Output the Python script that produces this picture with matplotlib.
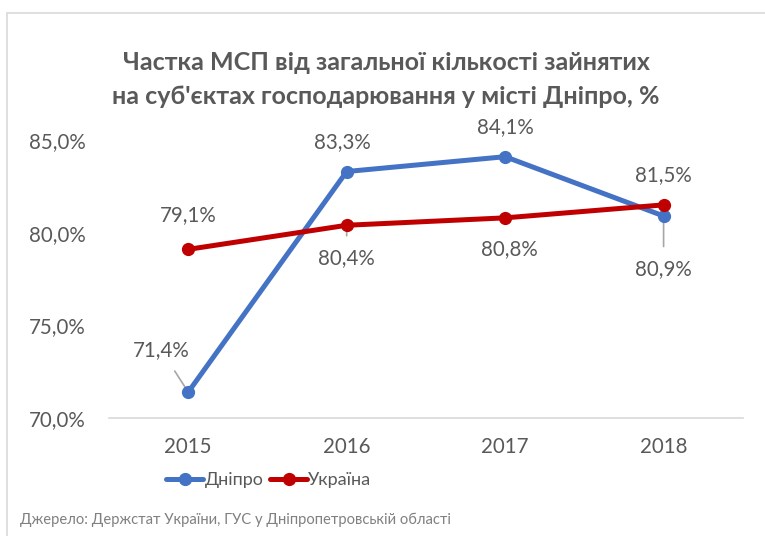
import matplotlib.pyplot as plt
import matplotlib.patches as mpatches
from matplotlib.ticker import FuncFormatter

plt.rcParams['font.family'] = ['Lato', 'DejaVu Sans']

years = ['2015', '2016', '2017', '2018']
dnipro = [71.4, 83.3, 84.1, 80.9]
ukraine = [79.1, 80.4, 80.8, 81.5]

# label offsets in pixels (dx, dy) and whether a leader line is drawn
dnipro_offsets = [(-27, 42), (-4, 29), (0, 30), (0, -53)]
dnipro_leader = [True, False, False, True]
ukraine_offsets = [(0, 34), (0, -33), (4, -31), (0, 30)]
ukraine_leader = [False, True, False, False]

blue = '#4472C4'
red = '#C00000'
text_grey = '#595959'

fig = plt.figure(figsize=(7.65, 5.36), dpi=100)
ax = fig.add_axes([0.1425, 0.2201, 0.8285, 0.5187])

x = list(range(len(years)))
ax.plot(x, dnipro, color=blue, lw=3.6, marker='o', markersize=8.5,
        solid_capstyle='round', label='Дніпро', zorder=3)
ax.plot(x, ukraine, color=red, lw=3.6, marker='o', markersize=8.5,
        solid_capstyle='round', label='Україна', zorder=4)


def add_labels(values, offsets, leaders):
    for i, v in enumerate(values):
        arrow = None
        if leaders[i]:
            arrow = dict(arrowstyle='-', color='#a6a6a6', lw=1.2, shrinkA=7, shrinkB=0)
        ax.annotate(f'{v:.1f}%'.replace('.', ','), xy=(i, v), xytext=offsets[i],
                    textcoords='offset pixels', ha='center', va='center',
                    fontsize=14.8, color=text_grey, arrowprops=arrow, zorder=2)


add_labels(dnipro, dnipro_offsets, dnipro_leader)
add_labels(ukraine, ukraine_offsets, ukraine_leader)

ax.set_xlim(-0.5, len(years) - 0.5)
ax.set_ylim(70, 85)
ax.set_yticks([70, 75, 80, 85])
ax.yaxis.set_major_formatter(FuncFormatter(lambda v, p: f'{v:.1f}%'.replace('.', ',')))
ax.set_xticks(x)
ax.set_xticklabels(years)
ax.tick_params(axis='both', length=0, labelsize=14.8, labelcolor=text_grey)
ax.tick_params(axis='y', pad=17)
ax.tick_params(axis='x', pad=14)

for s in ['top', 'right', 'left']:
    ax.spines[s].set_visible(False)
ax.spines['bottom'].set_color('#d9d9d9')
ax.spines['bottom'].set_linewidth(1.2)

fig.text(386 / 765, 1 - 62 / 536, 'Частка МСП від загальної кількості зайнятих',
         ha='center', va='center', fontsize=18, fontweight='bold', color=text_grey)
fig.text(386 / 765, 1 - 97 / 536, "на суб'єктах господарювання у місті Дніпро, %",
         ha='center', va='center', fontsize=18, fontweight='bold', color=text_grey)

fig.legend(loc='center', bbox_to_anchor=(269 / 765, 1 - 480 / 536), ncol=2,
           frameon=False, fontsize=13, labelcolor=text_grey, handlelength=2.0,
           handletextpad=0.1, columnspacing=0.4)

fig.text(20 / 765, 1 - 520 / 536, 'Джерело: Держстат України, ГУС у Дніпропетровській області',
         ha='left', va='center', fontsize=10.6, color='#808080')

# chart border
border = mpatches.Rectangle((7 / 765, -0.1), 1.2, 1.1 - 13 / 536,
                            transform=fig.transFigure, fill=False,
                            edgecolor='#d9d9d9', lw=1.2)
fig.patches.append(border)

fig.savefig('out.png', dpi=100)
